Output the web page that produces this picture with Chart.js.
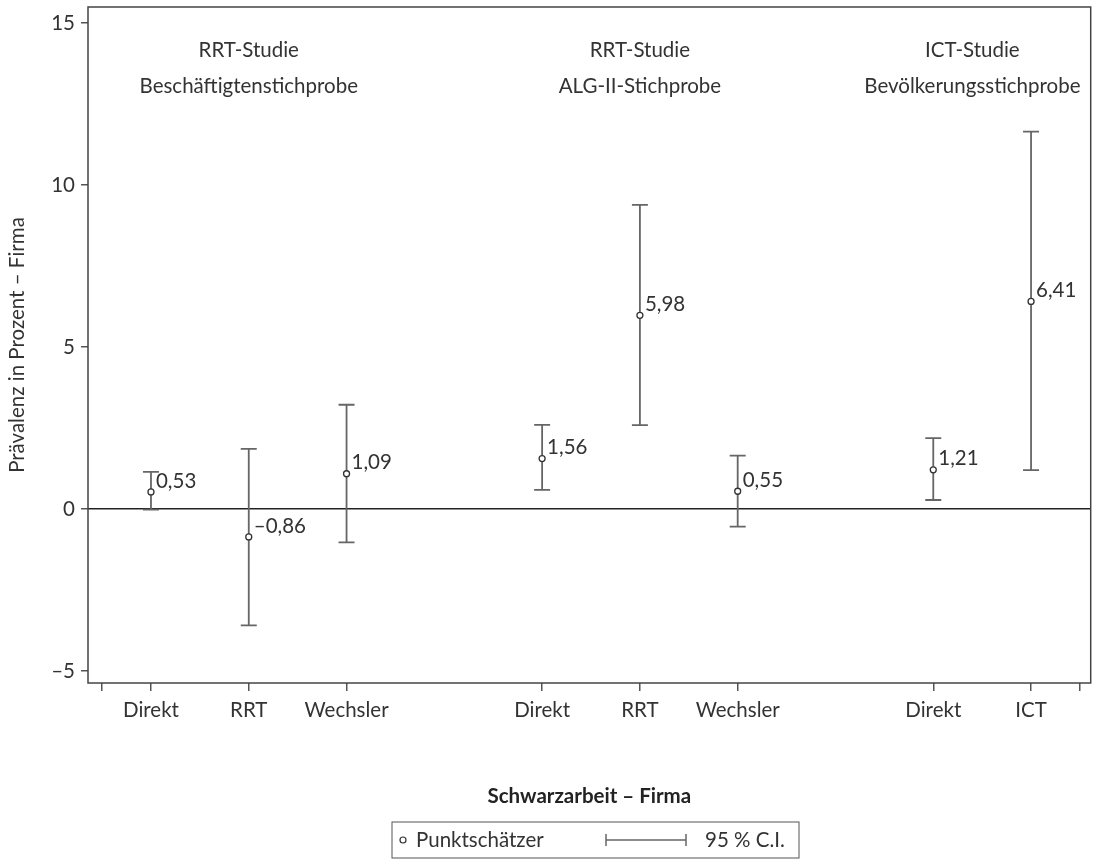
<!DOCTYPE html>
<html>
<head>
<meta charset="utf-8">
<script src="https://cdn.jsdelivr.net/npm/chart.js@4"></script>
<style>
    html, body { margin: 0; padding: 0; background: #fff; }
    #wrap { width: 1096px; height: 863px; }
</style>
</head>
<body>
<div id="wrap"><canvas id="chart"></canvas></div>
<script>
const positions = [1, 2, 3, 5, 6, 7, 9, 10];
const estimates = [0.53, -0.86, 1.09, 1.56, 5.98, 0.55, 1.21, 6.41];
const ciLower = [-0.02, -3.59, -1.03, 0.59, 2.59, -0.54, 0.28, 1.20];
const ciUpper = [1.15, 1.86, 3.22, 2.60, 9.39, 1.65, 2.19, 11.65];
const tickPositions = [0.5, 1, 2, 3, 5, 6, 7, 9, 10, 10.5];
const tickLabels = ['', 'Direkt', 'RRT', 'Wechsler', 'Direkt', 'RRT', 'Wechsler', 'Direkt', 'ICT', ''];
const yTicks = [-5, 0, 5, 10, 15];
const groupTitles = [
    ['RRT-Studie', 'Beschäftigtenstichprobe'],
    ['RRT-Studie', 'ALG-II-Stichprobe'],
    ['ICT-Studie', 'Bevölkerungsstichprobe']
];
const groupCenters = [2, 6, 9.4];

const FS = 20.5;
Chart.defaults.font.family = 'Lato';
Chart.defaults.color = '#333';

function fmt(v) {
    return (v < 0 ? '\u2013' : '') + Math.abs(v).toFixed(2).replace('.', ',');
}

// error bars, value labels, frame, group titles, legend
const errorBars = {
    id: 'errorBars',
    beforeDatasetsDraw(chart) {
        const ctx = chart.ctx, xs = chart.scales.x, ys = chart.scales.y;
        ctx.save();
        ctx.strokeStyle = '#666';
        ctx.lineWidth = 1.8;
        positions.forEach((p, i) => {
            const x = xs.getPixelForValue(p);
            const y1 = ys.getPixelForValue(ciLower[i]);
            const y2 = ys.getPixelForValue(ciUpper[i]);
            ctx.beginPath();
            ctx.moveTo(x, y1); ctx.lineTo(x, y2);
            ctx.moveTo(x - 8, y1); ctx.lineTo(x + 8, y1);
            ctx.moveTo(x - 8, y2); ctx.lineTo(x + 8, y2);
            ctx.stroke();
        });
        ctx.restore();
    },
    afterDatasetsDraw(chart) {
        const ctx = chart.ctx, xs = chart.scales.x, ys = chart.scales.y;
        ctx.save();
        ctx.fillStyle = '#333';
        ctx.font = FS + 'px Lato';
        ctx.textAlign = 'left';
        ctx.textBaseline = 'middle';
        positions.forEach((p, i) => {
            ctx.fillText(fmt(estimates[i]), xs.getPixelForValue(p) + 5, ys.getPixelForValue(estimates[i]) - 11);
        });
        ctx.restore();
    },
    afterDraw(chart) {
        const ctx = chart.ctx, a = chart.chartArea, xs = chart.scales.x;
        ctx.save();
        ctx.strokeStyle = '#444';
        ctx.lineWidth = 1.5;
        ctx.strokeRect(a.left, a.top, a.right - a.left, a.bottom - a.top);

        ctx.fillStyle = '#333';
        ctx.font = FS + 'px Lato';
        ctx.textAlign = 'center';
        ctx.textBaseline = 'middle';
        groupTitles.forEach((t, g) => {
            const x = xs.getPixelForValue(groupCenters[g]);
            ctx.fillText(t[0], x, a.top + 43);
            ctx.fillText(t[1], x, a.top + 79);
        });

        const lx = 392, ly = 822, lw = 407, lh = 36, cy = ly + lh / 2;
        ctx.strokeStyle = '#555';
        ctx.lineWidth = 1;
        ctx.strokeRect(lx, ly, lw, lh);
        ctx.beginPath();
        ctx.arc(lx + 11, cy, 3, 0, Math.PI * 2);
        ctx.fillStyle = '#fff';
        ctx.fill();
        ctx.strokeStyle = '#333';
        ctx.lineWidth = 1.2;
        ctx.stroke();
        ctx.fillStyle = '#333';
        ctx.textAlign = 'left';
        ctx.fillText('Punktschätzer', lx + 24, cy);
        ctx.strokeStyle = '#666';
        ctx.lineWidth = 1.5;
        ctx.beginPath();
        ctx.moveTo(lx + 214, cy); ctx.lineTo(lx + 294, cy);
        ctx.moveTo(lx + 214, cy - 6); ctx.lineTo(lx + 214, cy + 6);
        ctx.moveTo(lx + 294, cy - 6); ctx.lineTo(lx + 294, cy + 6);
        ctx.stroke();
        ctx.fillText('95 % C.I.', lx + 313, cy);
        ctx.restore();
    }
};

new Chart(document.getElementById('chart'), {
    type: 'scatter',
    data: {
        datasets: [{
            label: 'Punktschätzer',
            data: positions.map((p, i) => ({ x: p, y: estimates[i] })),
            pointRadius: 3,
            pointBackgroundColor: '#fff',
            pointBorderColor: '#333',
            pointBorderWidth: 1.3,
            showLine: false
        }]
    },
    options: {
        responsive: true,
        maintainAspectRatio: false,
        animation: false,
        layout: { padding: { top: 7, right: 5, left: 0, bottom: 0 } },
        plugins: {
            legend: { display: false },
            tooltip: { enabled: false }
        },
        scales: {
            x: {
                type: 'linear',
                min: 0.356,
                max: 10.61,
                afterBuildTicks: s => { s.ticks = tickPositions.map(v => ({ value: v })); },
                afterFit: s => { s.height = 180; s.paddingLeft = 0; s.paddingRight = 0; },
                ticks: {
                    callback: (v, i) => tickLabels[i],
                    autoSkip: false,
                    maxRotation: 0,
                    font: { size: FS },
                    color: '#333',
                    padding: 7
                },
                grid: { drawOnChartArea: false, drawTicks: true, tickLength: 8, color: '#555', lineWidth: 1.5 },
                border: { display: false },
                title: {
                    display: true,
                    text: 'Schwarzarbeit \u2013 Firma',
                    font: { size: FS, weight: 'bold' },
                    color: '#222',
                    padding: { top: 4, bottom: 54 }
                }
            },
            y: {
                min: -5.37,
                max: 15.5,
                afterBuildTicks: s => { s.ticks = yTicks.map(v => ({ value: v })); },
                afterFit: s => { s.width = 88; s.paddingTop = 0; s.paddingBottom = 0; },
                ticks: {
                    callback: v => (v < 0 ? '\u2013' : '') + Math.abs(v),
                    font: { size: FS },
                    color: '#333',
                    padding: 6
                },
                grid: {
                    drawTicks: true,
                    tickLength: 7,
                    tickColor: '#555',
                    tickWidth: 1.5,
                    color: c => c.tick && c.tick.value === 0 ? '#222' : 'rgba(0,0,0,0)',
                    lineWidth: 1.5
                },
                border: { display: false },
                title: {
                    display: true,
                    text: 'Prävalenz in Prozent \u2013 Firma',
                    font: { size: FS },
                    color: '#333',
                    padding: { top: 5, bottom: 0 }
                }
            }
        }
    },
    plugins: [errorBars]
});
</script>
</body>
</html>
